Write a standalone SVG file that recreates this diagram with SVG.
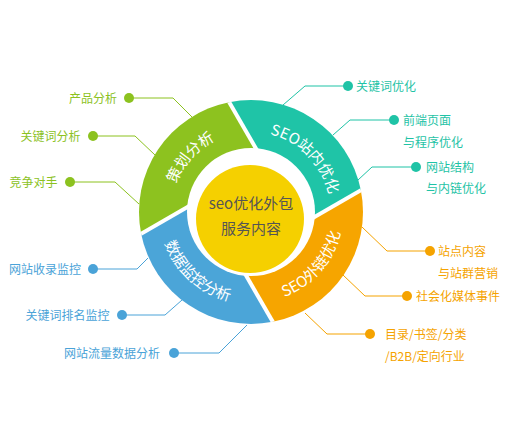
<svg xmlns="http://www.w3.org/2000/svg" width="506" height="440" viewBox="0 0 506 440">
<defs>
<style>
.lbl{font-family:"Noto Sans CJK SC","Noto Sans",sans-serif;font-size:12px}
.g{fill:#8cc21f}.b{fill:#4aa3d8}.t{fill:#1fc3a6}.o{fill:#f5a300}
.lg{stroke:#8cc21f}.lb{stroke:#4aa3d8}.lt{stroke:#1fc3a6}.lo{stroke:#f5a300}
.ln{fill:none;stroke-width:1}
.seg{font-family:"Noto Sans CJK SC","Noto Sans",sans-serif;font-size:15px;fill:#fff}
.ctr{font-family:"Noto Sans CJK SC","Noto Sans",sans-serif;font-size:15px;fill:#555;text-anchor:middle}
.gap{stroke:#fff;stroke-width:4}
</style>
<clipPath id="outer"><circle cx="251" cy="212" r="112"/></clipPath>
<path id="pg" d="M192.5,266.6 A80,80 0 0 1 299.1,148.1"/>
<path id="pt" d="M200.1,150.3 A80,80 0 0 1 311.8,264.0"/>
<path id="po" d="M197.6,286.3 A91.5,91.5 0 0 0 316.5,148.1"/>
<path id="pb" d="M177.9,156.9 A91.5,91.5 0 0 0 313.4,278.9"/>
</defs>
<rect width="506" height="440" fill="#fff"/>

<g id="connectors">
<polyline class="ln lg" points="129,98 173,98 192,117"/>
<polyline class="ln lg" points="93,136 135,136 155,155"/>
<polyline class="ln lg" points="70,182 115,182 139,204"/>
<polyline class="ln lb" points="93,269 137,269 148,258"/>
<polyline class="ln lb" points="122,315 165,315 182,300"/>
<polyline class="ln lb" points="174,353 219,353 247,325"/>
<polyline class="ln lt" points="348,86 305,86 283,105"/>
<polyline class="ln lt" points="394,120 350,120 333,135"/>
<polyline class="ln lt" points="416,167 372,167 358,180"/>
<polyline class="ln lo" points="430,251 387,251 362,227"/>
<polyline class="ln lo" points="407,296 365,296 343,275"/>
<polyline class="ln lo" points="370,334 327,334 305,313"/>
</g>

<g id="ring" clip-path="url(#outer)">
<polygon id="seg-green" fill="#8dc21f" points="233,180.8 -26.8,330.8 -60,-80 132.2,-65.8 282.2,194"/>
<polygon id="seg-teal" fill="#1fc4a7" points="282.2,194 132.2,-65.8 560,-80 528.8,93.2 269,243.2"/>
<polygon id="seg-orange" fill="#f6a500" points="269,243.2 528.8,93.2 560,520 369.8,489.8 219.8,230"/>
<polygon id="seg-blue" fill="#4ba5d8" points="219.8,230 369.8,489.8 -60,520 -26.8,330.8 233,180.8"/>
<line class="gap" x1="282.2" y1="194" x2="217.2" y2="81.4"/>
<line class="gap" x1="269" y1="243.2" x2="381.6" y2="178.2"/>
<line class="gap" x1="219.8" y1="230" x2="284.8" y2="342.6"/>
<line class="gap" x1="233" y1="180.8" x2="120.4" y2="245.8"/>
<circle cx="251" cy="212" r="64" fill="#fff"/>
</g>

<g id="n-green"><text class="seg"><textPath href="#pg" startOffset="50%" text-anchor="middle">策划分析</textPath></text></g>
<g id="n-teal"><text class="seg"><textPath href="#pt" startOffset="50%" text-anchor="middle">SEO站内优化</textPath></text></g>
<g id="n-orange"><text class="seg"><textPath href="#po" startOffset="50%" text-anchor="middle">SEO外链优化</textPath></text></g>
<g id="n-blue"><text class="seg"><textPath href="#pb" startOffset="50%" text-anchor="middle">数据监控分析</textPath></text></g>

<g id="center">
<circle cx="250" cy="219" r="54" fill="#f5d000"/>
<text class="ctr" x="251" y="208.5">seo优化外包</text>
<text class="ctr" x="251" y="233.5">服务内容</text>
</g>

<g id="l1"><circle class="g" cx="129" cy="98" r="5"/><text class="lbl g" x="117" y="102.5" text-anchor="end">产品分析</text></g>
<g id="l2"><circle class="g" cx="93" cy="136" r="5"/><text class="lbl g" x="80.5" y="140.5" text-anchor="end">关键词分析</text></g>
<g id="l3"><circle class="g" cx="70" cy="182" r="5"/><text class="lbl g" x="57.5" y="186.5" text-anchor="end">竞争对手</text></g>
<g id="l4"><circle class="b" cx="93" cy="269" r="5"/><text class="lbl b" x="81" y="273.5" text-anchor="end">网站收录监控</text></g>
<g id="l5"><circle class="b" cx="122" cy="315" r="5"/><text class="lbl b" x="109.5" y="319.5" text-anchor="end">关键词排名监控</text></g>
<g id="l6"><circle class="b" cx="174" cy="353" r="5"/><text class="lbl b" x="160" y="357.5" text-anchor="end">网站流量数据分析</text></g>
<g id="r1"><circle class="t" cx="348" cy="86" r="5"/><text class="lbl t" x="356" y="90.5">关键词优化</text></g>
<g id="r2"><circle class="t" cx="394" cy="120" r="5"/><text class="lbl t" x="403" y="124.5">前端页面</text><text class="lbl t" x="403" y="146.5">与程序优化</text></g>
<g id="r3"><circle class="t" cx="416" cy="167" r="5"/><text class="lbl t" x="426" y="171.5">网站结构</text><text class="lbl t" x="426" y="192.5">与内链优化</text></g>
<g id="r4"><circle class="o" cx="430" cy="251" r="5"/><text class="lbl o" x="438" y="255.5">站点内容</text><text class="lbl o" x="438" y="277.5">与站群营销</text></g>
<g id="r5"><circle class="o" cx="407" cy="296" r="5"/><text class="lbl o" x="416" y="300.5">社会化媒体事件</text></g>
<g id="r6"><circle class="o" cx="370" cy="334" r="5"/><text class="lbl o" x="385" y="338.5">目录/书签/分类</text><text class="lbl o" x="385" y="360.5">/B2B/定向行业</text></g>
</svg>
